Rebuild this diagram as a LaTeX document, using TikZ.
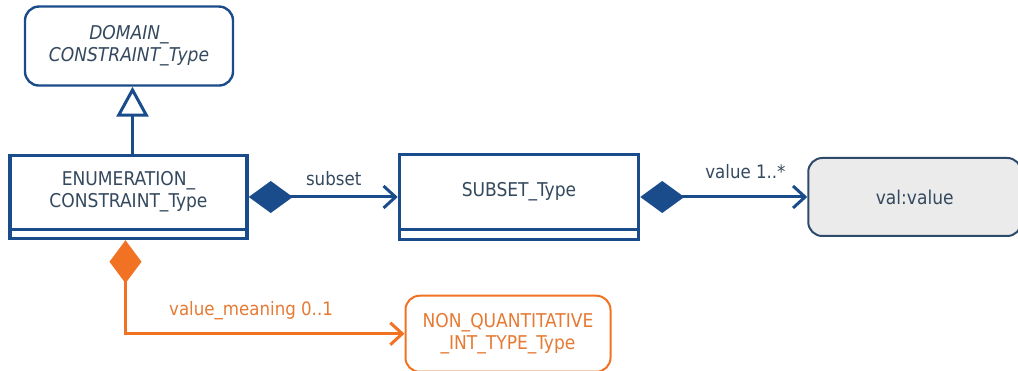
\documentclass[tikz,border=0pt]{standalone}
\usepackage{fontspec}
\setmainfont{DejaVu Sans Condensed}
\usetikzlibrary{arrows.meta,positioning}
\definecolor{umlBlue}{HTML}{1A4C8B}
\definecolor{umlInk}{HTML}{34495E}
\definecolor{umlOrange}{HTML}{F07222}
\definecolor{umlOrangeText}{HTML}{E67A33}
\definecolor{umlGray}{HTML}{EBEBEB}
\definecolor{umlEdge}{HTML}{2E4A6B}
\newcommand{\boxfont}{\fontsize{19}{22}\selectfont}
\newcommand{\lblfont}{\fontsize{18.5}{21}\selectfont}
\tikzset{
  every node/.style={text=umlInk},
  class box/.style={
    draw=umlBlue,
    fill=white,
    line width=3.5pt,
    align=center,
    inner sep=0pt,
    font=\boxfont,
    text depth=15pt
  },
  abstract box/.style={
    rounded corners=14pt,
    draw=umlBlue,
    fill=white,
    line width=2.4pt,
    align=center,
    inner sep=0pt,
    font=\boxfont\itshape
  },
  value box/.style={
    rounded corners=14pt,
    draw=umlEdge,
    fill=umlGray,
    line width=2pt,
    align=center,
    inner sep=0pt,
    font=\boxfont
  },
  enum box/.style={
    rounded corners=14pt,
    draw=umlOrange,
    fill=white,
    line width=2pt,
    align=center,
    inner sep=0pt,
    font=\boxfont,
    text=umlOrangeText
  },
  compartment line/.style={draw=umlBlue,line width=3pt},
  inherit arrow/.style={-{Triangle[open,length=30pt,width=32pt,fill=white]},line width=3pt,draw=umlBlue},
  part arrow/.style={{Diamond[length=44pt,width=32pt]}-{Straight Barb[length=12pt,width=22pt]},
    line width=3pt,draw=umlBlue},
  option arrow/.style={{Diamond[length=43pt,width=32pt]}-{Straight Barb[length=12pt,width=22pt]},
    line width=3pt,draw=umlOrange},
  role label/.style={font=\lblfont,inner sep=1pt},
}
\begin{document}
\begin{tikzpicture}[x=1pt,y=1pt]
  \useasboundingbox (0,0) rectangle (1018,371);

  \node[class box,minimum width=237pt,minimum height=83pt] (enum) at (128.5,174)
    {ENUMERATION\_\\CONSTRAINT\_Type};
  \node[abstract box,above=67pt of enum,xshift=0.5pt,
        minimum width=208pt,minimum height=79pt] (domain)
    {DOMAIN\_\\CONSTRAINT\_Type};
  \node[class box,right=149pt of enum,minimum width=239pt,minimum height=85pt] (subset)
    {SUBSET\_Type};
  \node[value box,right=167pt of subset,minimum width=213pt,minimum height=78pt] (val)
    {val:value};
  \node[enum box,below=53.5pt of subset,xshift=-11pt,
        minimum width=205pt,minimum height=76pt] (nonquant)
    {NON\_QUANTITATIVE\\\_INT\_TYPE\_Type};

  % empty attribute compartments
  \draw[compartment line] ([yshift=11pt]enum.south west) -- ([yshift=11pt]enum.south east);
  \draw[compartment line] ([yshift=12pt]subset.south west) -- ([yshift=12pt]subset.south east);

  \draw[inherit arrow] ([xshift=4pt]enum.north) -- ([xshift=3.5pt]domain.south);
  \draw[part arrow] (enum.east) -- (subset.west)
    node[role label,pos=0.57,above=9pt] (lblsubset) {subset};
  \draw[part arrow] (subset.east) -- (val.west)
    node[role label,pos=0.63,above=16pt] (lblvalue) {value 1..*};
  \draw[option arrow] ([xshift=-3pt]enum.south) |- (nonquant.west)
    node[role label,text=umlOrangeText,pos=0.725,above=11pt] (lblmeaning) {value\_meaning 0..1};

\end{tikzpicture}
\end{document}
